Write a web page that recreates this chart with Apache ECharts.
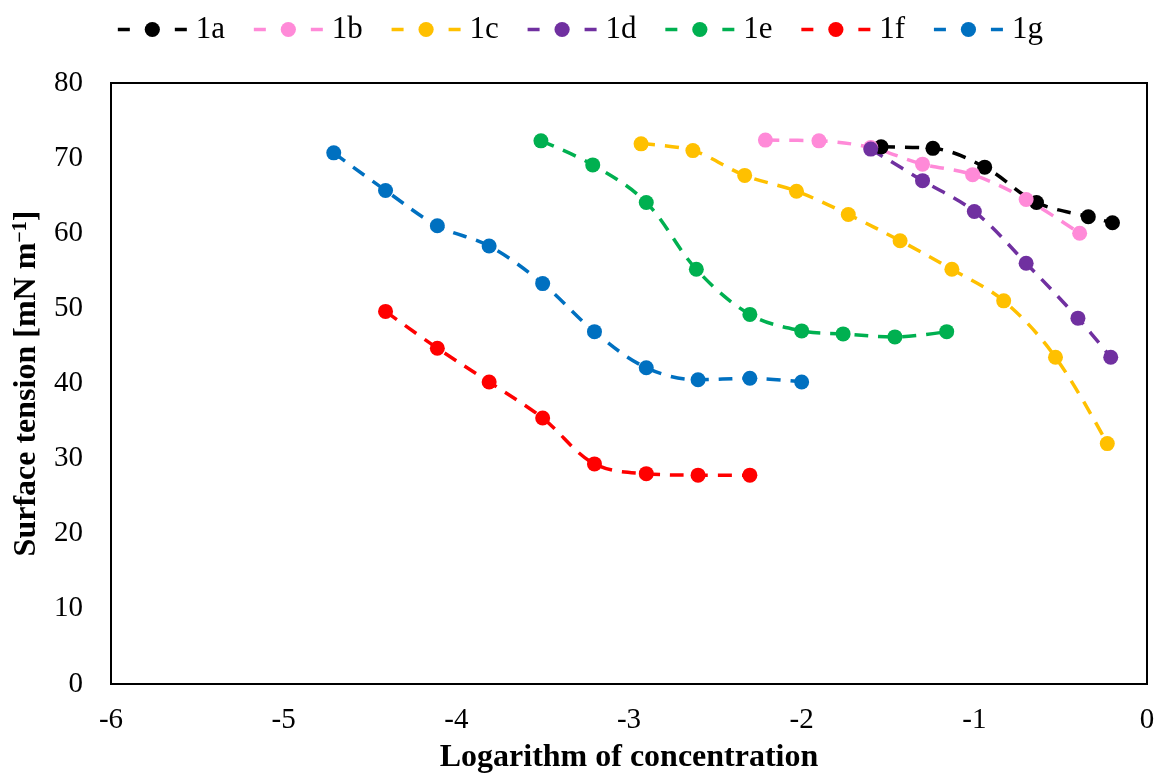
<!DOCTYPE html>
<html>
<head>
<meta charset="utf-8">
<script src="https://cdn.jsdelivr.net/npm/echarts@6/dist/echarts.min.js"></script>
<style>
  html, body { margin: 0; padding: 0; background: #fff; }
  #chart { width: 1159px; height: 782px; }
</style>
</head>
<body>
<div id="chart"></div>
<script>
// Surface tension vs. log concentration for compounds 1a–1g
const seriesNames = ['1a', '1b', '1c', '1d', '1e', '1f', '1g'];
const seriesColors = ['#000000', '#FF8AD8', '#FFC000', '#7030A0', '#00B050', '#FF0000', '#0070C0'];

const logC_1a = [-1.54, -1.24, -0.94, -0.64, -0.34, -0.20];
const st_1a   = [71.5, 71.3, 68.8, 64.1, 62.2, 61.4];

const logC_1b = [-2.21, -1.90, -1.60, -1.30, -1.01, -0.70, -0.39];
const st_1b   = [72.4, 72.3, 71.4, 69.2, 67.8, 64.5, 60.0];

const logC_1c = [-2.93, -2.63, -2.33, -2.03, -1.73, -1.43, -1.13, -0.83, -0.53, -0.23];
const st_1c   = [71.9, 71.0, 67.7, 65.6, 62.5, 59.0, 55.2, 51.0, 43.5, 32.0];

const logC_1d = [-1.60, -1.30, -1.00, -0.70, -0.40, -0.21];
const st_1d   = [71.2, 67.0, 62.9, 56.0, 48.7, 43.5];

const logC_1e = [-3.51, -3.21, -2.90, -2.61, -2.30, -2.00, -1.76, -1.46, -1.16];
const st_1e   = [72.3, 69.1, 64.1, 55.2, 49.2, 47.0, 46.6, 46.2, 46.9];

const logC_1f = [-4.41, -4.11, -3.81, -3.50, -3.20, -2.90, -2.60, -2.30];
const st_1f   = [49.6, 44.7, 40.2, 35.4, 29.3, 28.0, 27.8, 27.8];

const logC_1g = [-4.71, -4.41, -4.11, -3.81, -3.50, -3.20, -2.90, -2.60, -2.30, -2.00];
const st_1g   = [70.7, 65.7, 61.0, 58.3, 53.3, 46.9, 42.1, 40.5, 40.7, 40.2];

const xs = [logC_1a, logC_1b, logC_1c, logC_1d, logC_1e, logC_1f, logC_1g];
const ys = [st_1a, st_1b, st_1c, st_1d, st_1e, st_1f, st_1g];

const FONT = '"Liberation Serif", "Times New Roman", serif';

const series = seriesNames.map((name, i) => ({
  name: name,
  type: 'line',
  data: xs[i].map((x, k) => [x, ys[i][k]]),
  smooth: 0.35,
  symbol: 'circle',
  symbolSize: 15,
  color: seriesColors[i],
  itemStyle: { color: seriesColors[i], borderWidth: 0 },
  lineStyle: { color: seriesColors[i], width: 3.5, type: [14, 10] },
  emphasis: { disabled: true },
  animation: false
}));

const chart = echarts.init(document.getElementById('chart'), null, { renderer: 'canvas' });
chart.setOption({
  backgroundColor: '#ffffff',
  textStyle: { fontFamily: FONT },
  legend: {
    top: 9,
    left: 'center',
    itemWidth: 69,
    itemHeight: 19,
    itemGap: 27,
    lineStyle: { type: [12, 45], width: 3.5 },
    textStyle: { fontFamily: FONT, fontSize: 31, color: '#000', padding: [0, 0, 0, 4] },
    data: seriesNames
  },
  grid: {
    left: 111, right: 12, top: 83, bottom: 98,
    show: true, borderColor: '#000', borderWidth: 2, backgroundColor: 'transparent'
  },
  xAxis: {
    type: 'value',
    min: -6, max: 0, interval: 1,
    axisLine: { show: false },
    axisTick: { show: false },
    splitLine: { show: false },
    axisLabel: { fontFamily: FONT, fontSize: 29, color: '#000', margin: 22 },
    name: 'Logarithm of concentration',
    nameLocation: 'middle',
    nameGap: 58,
    nameTextStyle: { fontFamily: FONT, fontSize: 32, fontWeight: 'bold', color: '#000' }
  },
  yAxis: {
    type: 'value',
    min: 0, max: 80, interval: 10,
    axisLine: { show: false },
    axisTick: { show: false },
    splitLine: { show: false },
    axisLabel: { fontFamily: FONT, fontSize: 29, color: '#000', margin: 28 },
    name: '{t|Surface tension [mN m}{s|−1}{t|]}',
    nameLocation: 'middle',
    nameGap: 66,
    nameRotate: 90,
    nameTextStyle: {
      rich: {
        t: { fontFamily: FONT, fontSize: 32, fontWeight: 'bold', color: '#000' },
        s: { fontFamily: FONT, fontSize: 20, fontWeight: 'bold', color: '#000', verticalAlign: 'top', padding: [0, 0, 12, 0] }
      }
    }
  },
  series: series
});
</script>
</body>
</html>
